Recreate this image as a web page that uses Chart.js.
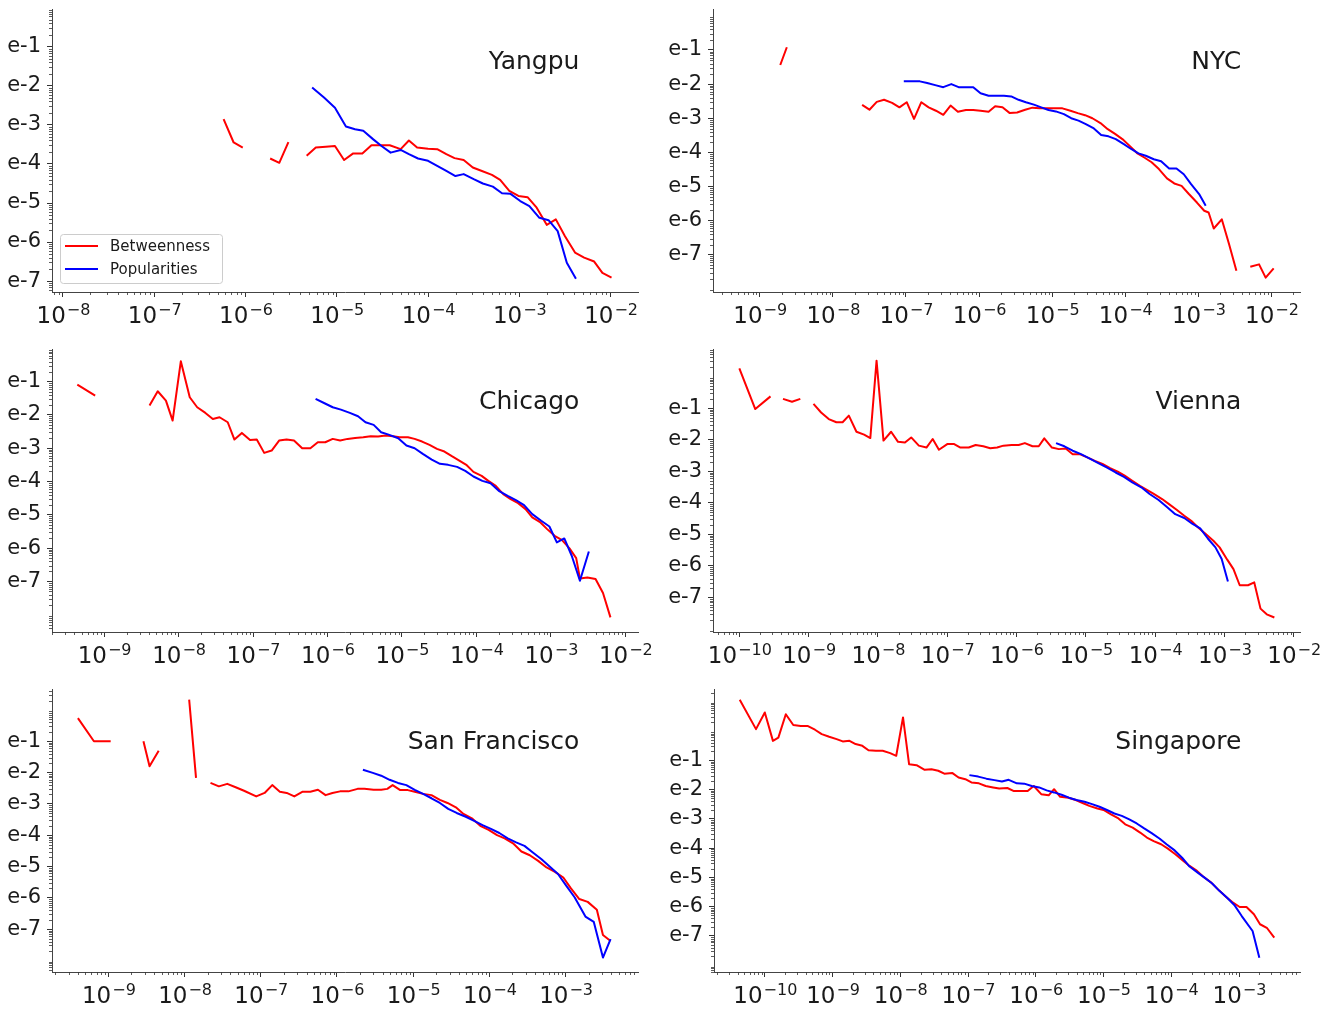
<!DOCTYPE html>
<html>
<head>
<meta charset="utf-8">
<script src="https://cdn.jsdelivr.net/npm/chart.js@4.4.1/dist/chart.umd.min.js"></script>
<style>
    html, body { margin: 0; padding: 0; background: #ffffff; }
    #figure { position: relative; width: 1333px; height: 1009px; overflow: hidden; }
    #figure canvas { position: absolute; }
</style>
</head>
<body>
<div id="figure"></div>
<script>
/* global Chart */

const LINE_RED = "#ff0000",
    LINE_BLUE = "#0000ff",
    AXIS_COLOR = "#444444",
    TICK_COLOR = "#333333",
    TEXT_COLOR = "#1a1a1a",
    FONT_FAMILY = "'DejaVu Sans', sans-serif",
    LABEL_BETWEENNESS = "Betweenness",
    LABEL_POPULARITIES = "Popularities",
    Y_AXIS_WIDTH = 52,
    X_AXIS_HEIGHT = 40,
    PAD_TOP = 9,
    PAD_RIGHT = 30,
    MAJOR_TICK_LENGTH = 5,
    MINOR_TICK_LENGTH = 3;

// y axis: decades shown as e-N
const Y_TICK_EXPONENTS = [-7, -6, -5, -4, -3, -2, -1];
const Y_TICK_LABELS = ["e-7", "e-6", "e-5", "e-4", "e-3", "e-2", "e-1"];

// x axis decades per city
const YANGPU_X_TICKS = [-8, -7, -6, -5, -4, -3, -2];
const NYC_X_TICKS = [-9, -8, -7, -6, -5, -4, -3, -2];
const CHICAGO_X_TICKS = [-9, -8, -7, -6, -5, -4, -3, -2];
const VIENNA_X_TICKS = [-10, -9, -8, -7, -6, -5, -4, -3, -2];
const SF_X_TICKS = [-9, -8, -7, -6, -5, -4, -3];
const SINGAPORE_X_TICKS = [-10, -9, -8, -7, -6, -5, -4, -3];

// distributions as [log10 x, log10 density]; each inner list is one unbroken run
const YANGPU_BETWEENNESS = [
    [[-6.24, -2.85], [-6.13, -3.45], [-6.03, -3.58]],
    [[-5.73, -3.86], [-5.63, -3.97], [-5.53, -3.44]],
    [[-5.33, -3.79], [-5.23, -3.58], [-5.12, -3.56], [-5.02, -3.54], [-4.92, -3.90], [-4.82, -3.73],
        [-4.72, -3.73], [-4.62, -3.52], [-4.52, -3.52], [-4.42, -3.52], [-4.30, -3.62], [-4.21, -3.40],
        [-4.12, -3.58], [-4.00, -3.61], [-3.90, -3.62], [-3.80, -3.75], [-3.71, -3.85], [-3.61, -3.90],
        [-3.51, -4.09], [-3.41, -4.18], [-3.30, -4.28], [-3.21, -4.41], [-3.11, -4.69], [-3.01, -4.82],
        [-2.91, -4.85], [-2.81, -5.12], [-2.70, -5.56], [-2.60, -5.42], [-2.50, -5.85], [-2.39, -6.27],
        [-2.29, -6.40], [-2.18, -6.50], [-2.09, -6.79], [-1.99, -6.91]],
];
const YANGPU_POPULARITIES = [
    [[-5.27, -2.04], [-5.14, -2.30], [-5.02, -2.56], [-4.90, -3.04], [-4.80, -3.11], [-4.71, -3.15],
        [-4.60, -3.37], [-4.51, -3.54], [-4.41, -3.71], [-4.30, -3.64], [-4.21, -3.75], [-4.11, -3.86],
        [-4.00, -3.92], [-3.90, -4.05], [-3.80, -4.18], [-3.70, -4.31], [-3.61, -4.26], [-3.50, -4.39],
        [-3.40, -4.50], [-3.29, -4.58], [-3.19, -4.75], [-3.10, -4.76], [-2.99, -4.95], [-2.89, -5.08],
        [-2.78, -5.38], [-2.68, -5.44], [-2.58, -5.72], [-2.48, -6.53], [-2.38, -6.94]],
];

const NYC_BETWEENNESS = [
    [[-8.72, -1.44], [-8.63, -0.92]],
    [[-7.60, -2.61], [-7.50, -2.75], [-7.40, -2.52], [-7.30, -2.46], [-7.19, -2.55], [-7.09, -2.68],
        [-6.99, -2.53], [-6.89, -3.02], [-6.79, -2.53], [-6.69, -2.68], [-6.59, -2.78], [-6.49, -2.90],
        [-6.39, -2.63], [-6.29, -2.81], [-6.18, -2.76], [-6.08, -2.76], [-5.98, -2.78], [-5.87, -2.81],
        [-5.78, -2.65], [-5.68, -2.68], [-5.58, -2.85], [-5.48, -2.83], [-5.37, -2.75], [-5.27, -2.69],
        [-5.17, -2.71], [-5.06, -2.71], [-4.96, -2.71], [-4.86, -2.71], [-4.75, -2.78], [-4.65, -2.85],
        [-4.55, -2.91], [-4.45, -3.00], [-4.34, -3.14], [-4.24, -3.32], [-4.14, -3.46], [-4.04, -3.61],
        [-3.94, -3.81], [-3.84, -4.02], [-3.74, -4.15], [-3.64, -4.29], [-3.54, -4.49], [-3.43, -4.76],
        [-3.33, -4.91], [-3.23, -4.98], [-3.13, -5.22], [-3.02, -5.47], [-2.92, -5.71], [-2.86, -5.76],
        [-2.79, -6.23], [-2.68, -5.96], [-2.58, -6.69], [-2.48, -7.47]],
    [[-2.29, -7.35], [-2.17, -7.28], [-2.08, -7.67], [-1.97, -7.40]],
];
const NYC_POPULARITIES = [
    [[-7.03, -1.92], [-6.92, -1.92], [-6.81, -1.92], [-6.71, -1.97], [-6.60, -2.03], [-6.49, -2.09],
        [-6.38, -2.00], [-6.28, -2.09], [-6.18, -2.09], [-6.08, -2.09], [-5.98, -2.27], [-5.87, -2.34],
        [-5.77, -2.34], [-5.66, -2.34], [-5.56, -2.36], [-5.46, -2.46], [-5.36, -2.53], [-5.25, -2.60],
        [-5.15, -2.68], [-5.05, -2.76], [-4.95, -2.80], [-4.84, -2.88], [-4.74, -3.00], [-4.64, -3.07],
        [-4.54, -3.17], [-4.43, -3.30], [-4.33, -3.49], [-4.23, -3.53], [-4.13, -3.61], [-4.02, -3.76],
        [-3.92, -3.90], [-3.82, -4.03], [-3.72, -4.10], [-3.61, -4.20], [-3.51, -4.26], [-3.40, -4.47],
        [-3.30, -4.47], [-3.20, -4.64], [-3.10, -4.93], [-2.99, -5.22], [-2.90, -5.56]],
];

const CHICAGO_BETWEENNESS = [
    [[-9.36, -1.09], [-9.12, -1.42]],
    [[-8.39, -1.72], [-8.28, -1.29], [-8.17, -1.57], [-8.08, -2.17], [-7.97, -0.39], [-7.85, -1.47],
        [-7.75, -1.77], [-7.64, -1.94], [-7.54, -2.12], [-7.45, -2.07], [-7.34, -2.22], [-7.25, -2.74],
        [-7.15, -2.54], [-7.04, -2.75], [-6.95, -2.74], [-6.85, -3.14], [-6.75, -3.07], [-6.65, -2.77],
        [-6.55, -2.74], [-6.45, -2.77], [-6.34, -3.00], [-6.23, -3.00], [-6.13, -2.82], [-6.03, -2.82],
        [-5.93, -2.72], [-5.83, -2.77], [-5.73, -2.72], [-5.63, -2.69], [-5.52, -2.67], [-5.42, -2.64],
        [-5.32, -2.65], [-5.22, -2.62], [-5.12, -2.64], [-5.03, -2.67], [-4.92, -2.67], [-4.83, -2.72],
        [-4.73, -2.80], [-4.63, -2.90], [-4.53, -3.02], [-4.43, -3.10], [-4.33, -3.24], [-4.23, -3.37],
        [-4.13, -3.51], [-4.04, -3.71], [-3.93, -3.83], [-3.84, -3.98], [-3.74, -4.13], [-3.64, -4.38],
        [-3.54, -4.53], [-3.44, -4.65], [-3.34, -4.83], [-3.25, -5.08], [-3.14, -5.23], [-3.05, -5.43],
        [-2.95, -5.63], [-2.85, -5.76], [-2.75, -6.01], [-2.66, -6.30], [-2.61, -6.91], [-2.51, -6.88],
        [-2.40, -6.93], [-2.30, -7.35], [-2.20, -8.08]],
];
const CHICAGO_POPULARITIES = [
    [[-6.16, -1.52], [-6.04, -1.65], [-5.93, -1.77], [-5.82, -1.84], [-5.70, -1.94], [-5.59, -2.04],
        [-5.49, -2.22], [-5.38, -2.30], [-5.28, -2.52], [-5.17, -2.60], [-5.05, -2.70], [-4.94, -2.92],
        [-4.83, -3.00], [-4.72, -3.17], [-4.60, -3.34], [-4.49, -3.47], [-4.38, -3.50], [-4.26, -3.56],
        [-4.15, -3.68], [-4.04, -3.85], [-3.92, -3.98], [-3.81, -4.05], [-3.70, -4.28], [-3.58, -4.43],
        [-3.47, -4.56], [-3.36, -4.71], [-3.25, -4.98], [-3.13, -5.18], [-3.02, -5.35], [-2.92, -5.83],
        [-2.82, -5.71], [-2.72, -6.23], [-2.61, -6.98], [-2.49, -6.10]],
];

const VIENNA_BETWEENNESS = [
    [[-10.00, 0.26], [-9.77, -1.03], [-9.55, -0.63]],
    [[-9.37, -0.71], [-9.24, -0.80], [-9.12, -0.71]],
    [[-8.93, -0.87], [-8.82, -1.14], [-8.71, -1.35], [-8.60, -1.45], [-8.51, -1.45], [-8.42, -1.24],
        [-8.31, -1.75], [-8.20, -1.84], [-8.11, -1.95], [-8.02, 0.50], [-7.92, -2.03], [-7.81, -1.75],
        [-7.71, -2.07], [-7.61, -2.09], [-7.52, -1.93], [-7.41, -2.19], [-7.30, -2.25], [-7.21, -1.98],
        [-7.12, -2.32], [-7.00, -2.14], [-6.90, -2.14], [-6.81, -2.25], [-6.69, -2.25], [-6.59, -2.17],
        [-6.48, -2.21], [-6.38, -2.27], [-6.28, -2.25], [-6.19, -2.19], [-6.07, -2.17], [-5.97, -2.17],
        [-5.88, -2.11], [-5.77, -2.21], [-5.68, -2.21], [-5.60, -1.96], [-5.49, -2.25], [-5.39, -2.30],
        [-5.29, -2.28], [-5.19, -2.46], [-5.09, -2.46], [-4.98, -2.56], [-4.87, -2.67], [-4.76, -2.77],
        [-4.65, -2.90], [-4.54, -3.01], [-4.44, -3.14], [-4.33, -3.30], [-4.22, -3.46], [-4.12, -3.59],
        [-4.02, -3.72], [-3.90, -3.88], [-3.80, -4.04], [-3.69, -4.22], [-3.58, -4.41], [-3.48, -4.57],
        [-3.38, -4.78], [-3.27, -4.99], [-3.16, -5.20], [-3.07, -5.41], [-2.96, -5.80], [-2.87, -6.10],
        [-2.78, -6.61], [-2.66, -6.61], [-2.57, -6.52], [-2.48, -7.35], [-2.39, -7.53], [-2.28, -7.63]],
];
const VIENNA_POPULARITIES = [
    [[-5.43, -2.11], [-5.31, -2.21], [-5.19, -2.35], [-5.07, -2.46], [-4.95, -2.59], [-4.82, -2.74],
        [-4.70, -2.88], [-4.57, -3.04], [-4.45, -3.18], [-4.33, -3.35], [-4.20, -3.51], [-4.08, -3.72],
        [-3.95, -3.91], [-3.83, -4.13], [-3.71, -4.36], [-3.58, -4.48], [-3.46, -4.67], [-3.35, -4.81],
        [-3.24, -5.13], [-3.13, -5.41], [-3.04, -5.78], [-2.95, -6.49]],
];

const SF_BETWEENNESS = [
    [[-9.40, -0.26], [-9.19, -1.00], [-8.97, -1.00]],
    [[-8.54, -1.00], [-8.46, -1.80], [-8.34, -1.30]],
    [[-7.94, 0.33], [-7.85, -2.17]],
    [[-7.66, -2.33], [-7.55, -2.44], [-7.44, -2.36], [-7.33, -2.47], [-7.22, -2.58], [-7.06, -2.76],
        [-6.95, -2.65], [-6.85, -2.40], [-6.75, -2.61], [-6.66, -2.65], [-6.56, -2.76], [-6.45, -2.61],
        [-6.35, -2.61], [-6.25, -2.55], [-6.15, -2.72], [-6.06, -2.65], [-5.96, -2.60], [-5.85, -2.60],
        [-5.73, -2.52], [-5.64, -2.52], [-5.52, -2.55], [-5.42, -2.55], [-5.34, -2.52], [-5.27, -2.40],
        [-5.17, -2.56], [-5.07, -2.56], [-4.98, -2.61], [-4.87, -2.68], [-4.76, -2.72], [-4.65, -2.87],
        [-4.55, -2.97], [-4.44, -3.11], [-4.34, -3.32], [-4.23, -3.46], [-4.12, -3.70], [-4.01, -3.83],
        [-3.90, -4.00], [-3.80, -4.10], [-3.69, -4.26], [-3.58, -4.52], [-3.47, -4.64], [-3.36, -4.82],
        [-3.25, -5.03], [-3.14, -5.17], [-3.03, -5.35], [-2.93, -5.70], [-2.82, -6.04], [-2.71, -6.13],
        [-2.59, -6.38], [-2.51, -7.19], [-2.41, -7.38]],
];
const SF_POPULARITIES = [
    [[-5.66, -1.91], [-5.53, -2.01], [-5.42, -2.10], [-5.31, -2.23], [-5.20, -2.33], [-5.09, -2.40],
        [-4.98, -2.55], [-4.87, -2.68], [-4.76, -2.82], [-4.65, -2.97], [-4.54, -3.16], [-4.43, -3.29],
        [-4.31, -3.41], [-4.20, -3.54], [-4.09, -3.68], [-3.98, -3.80], [-3.87, -3.93], [-3.76, -4.10],
        [-3.65, -4.23], [-3.54, -4.34], [-3.43, -4.55], [-3.32, -4.76], [-3.21, -5.00], [-3.10, -5.24],
        [-2.99, -5.62], [-2.88, -5.99], [-2.74, -6.60], [-2.63, -6.77], [-2.51, -7.91], [-2.41, -7.32]],
];

const SINGAPORE_BETWEENNESS = [
    [[-10.37, 1.06], [-10.13, 0.06], [-10.00, 0.63], [-9.88, -0.34], [-9.80, -0.23], [-9.69, 0.57],
        [-9.58, 0.20], [-9.47, 0.17], [-9.37, 0.17], [-9.26, 0.04], [-9.16, -0.11], [-9.05, -0.20],
        [-8.94, -0.28], [-8.85, -0.36], [-8.75, -0.34], [-8.66, -0.45], [-8.56, -0.51], [-8.47, -0.66],
        [-8.36, -0.68], [-8.26, -0.68], [-8.15, -0.76], [-8.06, -0.85], [-7.96, 0.46], [-7.87, -1.14],
        [-7.76, -1.17], [-7.64, -1.33], [-7.54, -1.31], [-7.44, -1.36], [-7.35, -1.46], [-7.23, -1.44],
        [-7.14, -1.59], [-7.04, -1.65], [-6.95, -1.76], [-6.84, -1.79], [-6.74, -1.88], [-6.63, -1.93],
        [-6.54, -1.97], [-6.42, -1.95], [-6.33, -2.05], [-6.22, -2.05], [-6.12, -2.05], [-6.03, -1.88],
        [-5.92, -2.16], [-5.81, -2.20], [-5.73, -1.99], [-5.64, -2.25], [-5.52, -2.28], [-5.41, -2.36],
        [-5.30, -2.47], [-5.21, -2.56], [-5.09, -2.65], [-5.00, -2.70], [-4.89, -2.85], [-4.78, -2.99],
        [-4.68, -3.19], [-4.57, -3.30], [-4.46, -3.47], [-4.36, -3.64], [-4.26, -3.76], [-4.15, -3.87],
        [-4.05, -4.02], [-3.94, -4.21], [-3.83, -4.42], [-3.73, -4.61], [-3.62, -4.78], [-3.53, -4.97],
        [-3.41, -5.18], [-3.31, -5.41], [-3.19, -5.67], [-3.10, -5.84], [-2.99, -6.01], [-2.89, -6.01],
        [-2.78, -6.26], [-2.69, -6.60], [-2.59, -6.72], [-2.48, -7.06]],
];
const SINGAPORE_POPULARITIES = [
    [[-6.98, -1.51], [-6.85, -1.56], [-6.73, -1.63], [-6.61, -1.68], [-6.50, -1.73], [-6.40, -1.67],
        [-6.28, -1.79], [-6.17, -1.80], [-6.06, -1.88], [-5.95, -1.93], [-5.84, -2.03], [-5.73, -2.10],
        [-5.62, -2.18], [-5.51, -2.28], [-5.40, -2.36], [-5.28, -2.42], [-5.17, -2.50], [-5.06, -2.59],
        [-4.95, -2.70], [-4.84, -2.82], [-4.73, -2.90], [-4.62, -3.02], [-4.51, -3.16], [-4.40, -3.33],
        [-4.29, -3.49], [-4.17, -3.68], [-4.07, -3.87], [-3.95, -4.08], [-3.84, -4.33], [-3.73, -4.63],
        [-3.62, -4.82], [-3.51, -5.01], [-3.40, -5.20], [-3.29, -5.46], [-3.18, -5.69], [-3.07, -5.94],
        [-2.96, -6.32], [-2.80, -6.83], [-2.70, -7.74]],
];

// plot areas in page pixels, axis limits in decades
const PANELS = [
    {name: "Yangpu", left: 52, top: 9, width: 586, height: 283, xRange: [-8.12, -1.70], yRange: [-7.28, -0.03],
        xTicks: YANGPU_X_TICKS, betweenness: YANGPU_BETWEENNESS, popularities: YANGPU_POPULARITIES, legend: true},
    {name: "NYC", left: 713, top: 9, width: 587, height: 283, xRange: [-9.64, -1.61], yRange: [-8.09, 0.20],
        xTicks: NYC_X_TICKS, betweenness: NYC_BETWEENNESS, popularities: NYC_POPULARITIES, legend: false},
    {name: "Chicago", left: 52, top: 349, width: 586, height: 283, xRange: [-9.70, -1.83], yRange: [-8.52, -0.02],
        xTicks: CHICAGO_X_TICKS, betweenness: CHICAGO_BETWEENNESS, popularities: CHICAGO_POPULARITIES, legend: false},
    {name: "Vienna", left: 713, top: 349, width: 587, height: 283, xRange: [-10.38, -1.91], yRange: [-8.09, 0.87],
        xTicks: VIENNA_X_TICKS, betweenness: VIENNA_BETWEENNESS, popularities: VIENNA_POPULARITIES, legend: false},
    {name: "San Francisco", left: 52, top: 689, width: 586, height: 283, xRange: [-9.74, -2.05], yRange: [-8.37, 0.67],
        xTicks: SF_X_TICKS, betweenness: SF_BETWEENNESS, popularities: SF_POPULARITIES, legend: false},
    {name: "Singapore", left: 714, top: 689, width: 586, height: 283, xRange: [-10.75, -2.10], yRange: [-8.23, 1.43],
        xTicks: SINGAPORE_X_TICKS, betweenness: SINGAPORE_BETWEENNESS, popularities: SINGAPORE_POPULARITIES, legend: false},
];

function toPoints(segments) {
    let points = [];
    segments.forEach((segment, i) => {
        if (i > 0) {
            // a null y breaks the line between runs
            points.push({x: Math.pow(10, segment[0][0]), y: null});
        }
        segment.forEach(([lx, ly]) => points.push({x: Math.pow(10, lx), y: Math.pow(10, ly)}));
    });
    return points;
}

function createDataSet(label, color, segments) {
    return {
        label: label,
        data: toPoints(segments),
        borderColor: color,
        backgroundColor: color,
        borderWidth: 2,
        pointRadius: 0,
        tension: 0,
        fill: false,
        spanGaps: false,
        borderJoinStyle: "round",
    };
}

function drawMinorTicks(ctx, scale, horizontal) {
    const lo = Math.floor(Math.log10(scale.min)),
        hi = Math.ceil(Math.log10(scale.max));
    ctx.strokeStyle = TICK_COLOR;
    ctx.lineWidth = 0.8;
    for (let e = lo; e < hi; e++) {
        for (let k = 2; k < 10; k++) {
            const v = k * Math.pow(10, e);
            if (v < scale.min || v > scale.max) {
                continue;
            }
            const p = Math.round(scale.getPixelForValue(v)) + 0.5;
            ctx.beginPath();
            if (horizontal) {
                ctx.moveTo(p, scale.top);
                ctx.lineTo(p, scale.top + MINOR_TICK_LENGTH);
            } else {
                ctx.moveTo(scale.right, p);
                ctx.lineTo(scale.right - MINOR_TICK_LENGTH, p);
            }
            ctx.stroke();
        }
    }
}

// "10" with a raised exponent under each decade
function drawXTickLabels(ctx, scale, exponents) {
    const baseFont = `23px ${FONT_FAMILY}`,
        supFont = `16px ${FONT_FAMILY}`;
    ctx.fillStyle = TEXT_COLOR;
    ctx.textAlign = "left";
    ctx.textBaseline = "alphabetic";
    exponents.forEach((exp) => {
        const px = scale.getPixelForValue(Math.pow(10, exp)),
            sup = "\u2212" + Math.abs(exp);
        ctx.font = baseFont;
        const wBase = ctx.measureText("10").width;
        ctx.font = supFont;
        const wSup = ctx.measureText(sup).width;
        const x0 = px - (wBase + wSup) / 2;
        ctx.font = baseFont;
        ctx.fillText("10", x0, scale.top + 31);
        ctx.font = supFont;
        ctx.fillText(sup, x0 + wBase + 1, scale.top + 23);
    });
}

function drawLegend(ctx, area, datasets) {
    const x = area.left + 8,
        y = area.bottom - 58,
        w = 162,
        h = 49;
    ctx.beginPath();
    ctx.roundRect(x + 0.5, y + 0.5, w, h, 3);
    ctx.fillStyle = "rgba(255, 255, 255, 0.8)";
    ctx.fill();
    ctx.strokeStyle = "#cccccc";
    ctx.lineWidth = 1;
    ctx.stroke();
    ctx.font = `15px ${FONT_FAMILY}`;
    ctx.textAlign = "left";
    ctx.textBaseline = "middle";
    datasets.forEach((ds, i) => {
        const rowY = y + 12 + i * 23;
        ctx.strokeStyle = ds.borderColor;
        ctx.lineWidth = 2;
        ctx.beginPath();
        ctx.moveTo(x + 5, rowY);
        ctx.lineTo(x + 38, rowY);
        ctx.stroke();
        ctx.fillStyle = TEXT_COLOR;
        ctx.fillText(ds.label, x + 50, rowY + 1);
    });
}

const panelDecor = {
    id: "panelDecor",
    afterDraw(chart, args, opts) {
        const {ctx, chartArea, scales} = chart;
        ctx.save();
        drawMinorTicks(ctx, scales.x, true);
        drawMinorTicks(ctx, scales.y, false);
        drawXTickLabels(ctx, scales.x, opts.xTicks);
        // city name in the upper right of the plot
        ctx.font = `25px ${FONT_FAMILY}`;
        ctx.fillStyle = TEXT_COLOR;
        ctx.textAlign = "right";
        ctx.textBaseline = "middle";
        ctx.fillText(opts.cityName,
            chartArea.left + 0.9 * (chartArea.right - chartArea.left),
            chartArea.top + 0.19 * (chartArea.bottom - chartArea.top));
        if (opts.legend) {
            drawLegend(ctx, chartArea, chart.data.datasets.slice().reverse());
        }
        ctx.restore();
    },
};

function createChart(canvas, panel) {
    return new Chart(canvas.getContext("2d"), {
        type: "line",
        data: {
            // popularities first so it is drawn on top
            datasets: [
                createDataSet(LABEL_POPULARITIES, LINE_BLUE, panel.popularities),
                createDataSet(LABEL_BETWEENNESS, LINE_RED, panel.betweenness),
            ],
        },
        options: {
            responsive: false,
            animation: false,
            devicePixelRatio: 1,
            events: [],
            layout: {
                padding: {top: PAD_TOP, right: PAD_RIGHT, left: 0, bottom: 0},
            },
            plugins: {
                legend: {display: false},
                tooltip: {enabled: false},
                panelDecor: {
                    cityName: panel.name,
                    xTicks: panel.xTicks,
                    legend: panel.legend,
                },
            },
            scales: {
                x: {
                    type: "logarithmic",
                    min: Math.pow(10, panel.xRange[0]),
                    max: Math.pow(10, panel.xRange[1]),
                    afterBuildTicks: (scale) => {
                        scale.ticks = panel.xTicks.map((e) => ({value: Math.pow(10, e)}));
                    },
                    afterFit: (scale) => {
                        scale.height = X_AXIS_HEIGHT;
                        scale.paddingLeft = 0;
                        scale.paddingRight = 0;
                    },
                    ticks: {display: false},
                    grid: {
                        drawOnChartArea: false,
                        drawTicks: true,
                        tickLength: MAJOR_TICK_LENGTH,
                        tickColor: TICK_COLOR,
                        tickWidth: 1,
                    },
                    border: {display: true, color: AXIS_COLOR, width: 1},
                },
                y: {
                    type: "logarithmic",
                    min: Math.pow(10, panel.yRange[0]),
                    max: Math.pow(10, panel.yRange[1]),
                    afterBuildTicks: (scale) => {
                        scale.ticks = Y_TICK_EXPONENTS.map((e) => ({value: Math.pow(10, e)}));
                    },
                    afterFit: (scale) => {
                        scale.width = Y_AXIS_WIDTH;
                        scale.paddingTop = 0;
                        scale.paddingBottom = 0;
                    },
                    ticks: {
                        autoSkip: false,
                        padding: 6,
                        color: TEXT_COLOR,
                        font: {family: FONT_FAMILY, size: 21},
                        callback: (value, index) => Y_TICK_LABELS[index],
                    },
                    grid: {
                        drawOnChartArea: false,
                        drawTicks: true,
                        tickLength: MAJOR_TICK_LENGTH,
                        tickColor: TICK_COLOR,
                        tickWidth: 1,
                    },
                    border: {display: true, color: AXIS_COLOR, width: 1},
                },
            },
        },
        plugins: [panelDecor],
    });
}

const figure = document.getElementById("figure");
PANELS.forEach((panel) => {
    const canvas = document.createElement("canvas");
    canvas.width = panel.width + Y_AXIS_WIDTH + PAD_RIGHT;
    canvas.height = panel.height + PAD_TOP + X_AXIS_HEIGHT;
    canvas.style.left = (panel.left - Y_AXIS_WIDTH) + "px";
    canvas.style.top = (panel.top - PAD_TOP) + "px";
    figure.appendChild(canvas);
    createChart(canvas, panel);
});
</script>
</body>
</html>
